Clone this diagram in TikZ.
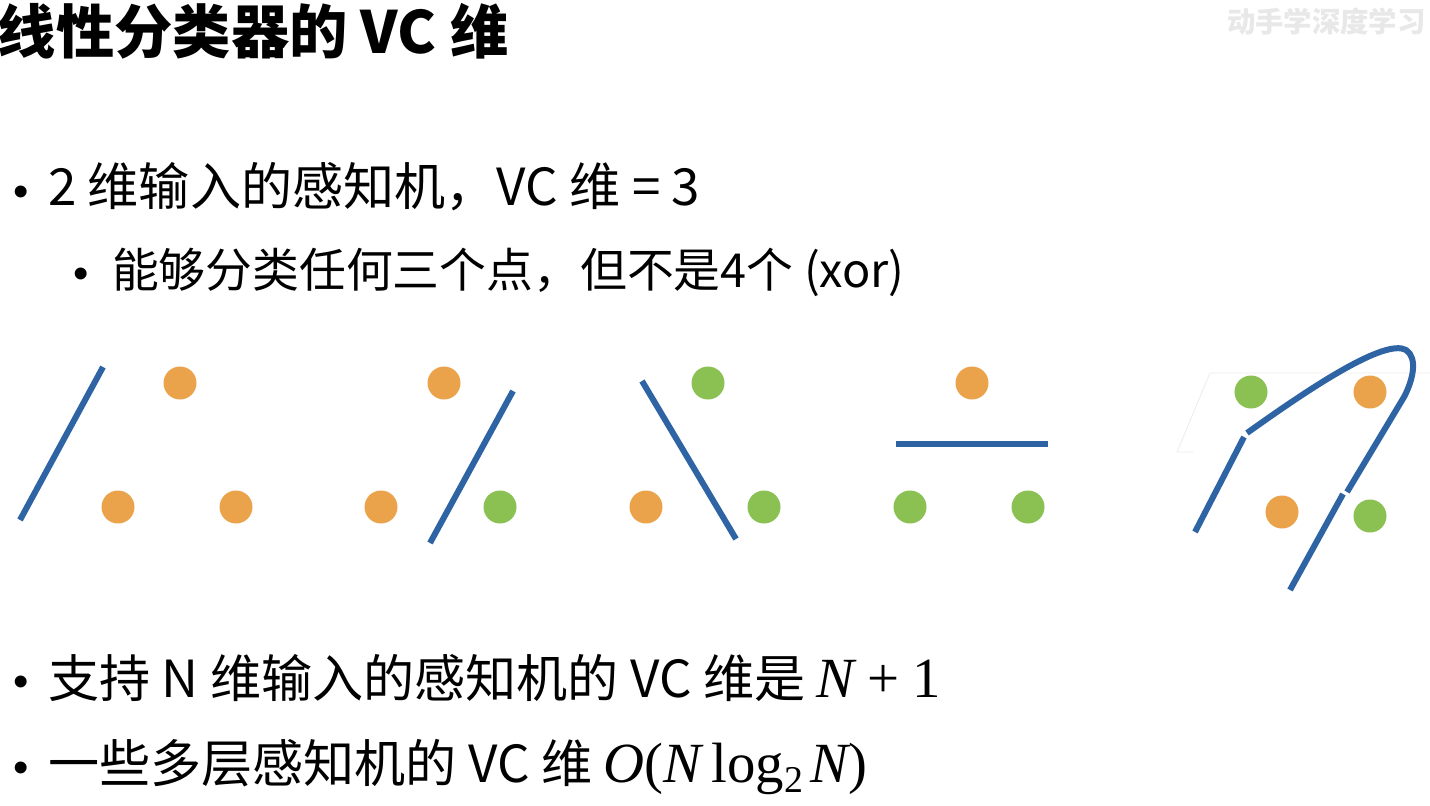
\documentclass[tikz,border=0pt]{standalone}
\usepackage{fontspec}
\newfontfamily\cjk{Noto Sans CJK SC}
\newfontfamily\tms{Liberation Serif}
\newfontfamily\lsans{Liberation Sans}
\definecolor{lineblue}{HTML}{2E64A4}
\definecolor{dotorange}{HTML}{EAA34A}
\definecolor{dotgreen}{HTML}{8BC053}
\newcommand{\mth}{\tms\fontsize{57}{64}\selectfont}
\begin{document}
\begin{tikzpicture}[x=1bp,y=-1bp,
  txt/.style={anchor=base west, inner sep=0pt, outer sep=0pt, text=black},
  titletxt/.style={txt, font=\cjk\bfseries\fontsize{58.5}{66}\selectfont},
  lvlone/.style={txt, font=\cjk\fontsize{51.3}{60}\selectfont},
  lvltwo/.style={txt, font=\cjk\fontsize{47}{56}\selectfont},
  bul/.style={anchor=base, inner sep=0pt, outer sep=0pt, font=\lsans\fontsize{44}{50}\selectfont},
  divline/.style={draw=lineblue, line width=6bp},
  odot/.style={circle, fill=dotorange, minimum size=33bp, inner sep=0pt},
  gdot/.style={circle, fill=dotgreen, minimum size=33bp, inner sep=0pt},
  faint/.style={draw=black!7, line width=0.8bp},
]
\useasboundingbox[fill=white] (0,0) rectangle (1430,805);

% watermark
\node[txt, font=\cjk\bfseries\fontsize{28.5}{34}\selectfont, text=black!9] (wm) at (1227,33) {动手学深度学习};

% title
\node[titletxt] (title) at (-2,54) {线性分类器的 VC 维};

% bullets
\node[bul] (b1) at (21,206) {•};
\node[lvlone] (t1) at (48,205) {2 维输入的感知机，VC 维 = 3};
\node[bul] (b2) at (81,288) {•};
\node[lvltwo] (t2) at (112,287) {能够分类任何三个点，但不是4个 (xor)};
\node[bul] (b3) at (21,696) {•};
\node[lvlone] (t3) at (48,697) {支持 N 维输入的感知机的 VC 维是 {\mth\itshape N}\hspace{0.25em}{\mth +}\hspace{0.25em}{\mth 1}};
\node[bul] (b4) at (21,782) {•};
\node[lvlone] (t4) at (48,782) {一些多层感知机的 VC 维 {\mth\itshape O}{\mth (}{\mth\itshape N}\hspace{0.2em}{\mth log}\raisebox{-0.2em}{\tms\fontsize{38}{42}\selectfont 2}\hspace{0.15em}{\mth\itshape N}{\mth )}};

% panel 1
\node[odot] (p1a) at (180,383) {};
\node[odot] (p1b) at (118,507) {};
\node[odot] (p1c) at (236,507) {};
\coordinate (l1s) at (103,367);
\coordinate (l1e) at (20,520);
\draw[divline] (l1s) -- (l1e);

% panel 2
\node[odot] (p2a) at (444,383) {};
\node[odot] (p2b) at (381,507) {};
\node[gdot] (p2c) at (500,507) {};
\coordinate (l2s) at (513,391);
\coordinate (l2e) at (430,543);
\draw[divline] (l2s) -- (l2e);

% panel 3
\node[gdot] (p3a) at (708,383) {};
\node[odot] (p3b) at (646,507) {};
\node[gdot] (p3c) at (764,507) {};
\coordinate (l3s) at (642,381);
\coordinate (l3e) at (736,539);
\draw[divline] (l3s) -- (l3e);

% panel 4
\node[odot] (p4a) at (972,383) {};
\node[gdot] (p4b) at (910,507) {};
\node[gdot] (p4c) at (1028,507) {};
\coordinate (l4s) at (896,444);
\coordinate (l4e) at (1048,444);
\draw[divline] (l4s) -- (l4e);

% panel 5
\coordinate (f1) at (1177,452);
\coordinate (f2) at (1210,373);
\coordinate (f3) at (1430,373);
\coordinate (f4) at (1193,452);
\draw[faint] (f4) -- (f1) -- (f2) -- (f3);
\node[gdot] (p5a) at (1251,392) {};
\node[odot] (p5b) at (1370,392) {};
\node[odot] (p5c) at (1282,512) {};
\node[gdot] (p5d) at (1370,516) {};
\coordinate (c1) at (1195,532);
\coordinate (c2) at (1244,437);
\coordinate (c3) at (1247,433);
\coordinate (c4) at (1406,350);
\coordinate (c5) at (1404,397);
\coordinate (c6) at (1347,492);
\coordinate (c7) at (1343,494);
\coordinate (c8) at (1290,590);
\draw[divline] (c1) -- (c2);
\draw[divline] (c3) .. controls (1310,388) and (1385,338) .. (c4)
  .. controls (1418,358) and (1413,380) .. (c5) -- (c6);
\draw[divline] (c7) -- (c8);
\end{tikzpicture}
\end{document}
